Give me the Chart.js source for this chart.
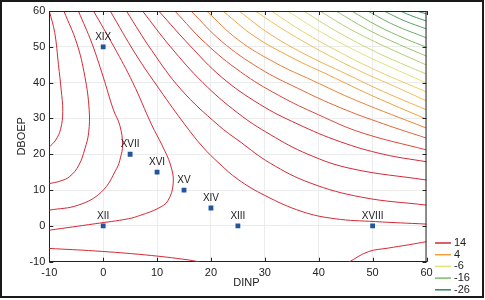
<!DOCTYPE html>
<html lang="en">
<head>
<meta charset="UTF-8">
<title>DINP / DBOEP contour plot</title>
<script src="https://cdn.jsdelivr.net/npm/chart.js"></script>
<style>
  body { margin: 0; background: #fff; }
  #wrap { position: relative; width: 485px; height: 300px; }
  #frame { position: absolute; left: 0; top: 0; width: 484px; height: 298px;
           border: 2px solid #1a1a1a; box-sizing: border-box; pointer-events: none; }
</style>
</head>
<body>
<div id="wrap">
  <canvas id="contourChart" width="485" height="300"></canvas>
  <div id="frame"></div>
</div>
<script>
// design points
const pointNames = ['XII', 'XIII', 'XIV', 'XV', 'XVI', 'XVII', 'XVIII', 'XIX'];
const dinp  = [0, 25, 20, 15, 10, 5, 50, 0];
const dboep = [0, 0, 5, 10, 15, 20, 0, 50];

// legend
const legendLevels = [14, 4, -6, -16, -26];
const legendColors = ['#d42a36', '#f3a03a', '#e2e27c', '#7dbb68', '#2f8a62'];

// contour lines, [DINP, DBOEP]
// left-hand family (open towards the left edge)
const l1 = [[-10,60],[-9,54],[-8.3,45],[-7.8,38],[-7.5,32],[-7.9,27],[-8.8,24],[-10,22]];
const l2 = [[-7.3,60],[-4.9,51],[-3.4,41.7],[-2.6,32.4],[-2.7,26],[-3.4,21.5],[-4.5,17],[-6.2,13.8],[-8,12.5],[-10,11.8]];
const l3 = [[-4.6,60],[-2.1,51],[0,41.6],[1.9,32.4],[3.1,28],[3.6,22.6],[3.2,19],[2.5,16],[-0.3,9.5],[-4.6,5.8],[-10,4.4]];
const l4 = [[-1.8,60],[2,50],[5.5,40],[9,28.2],[10.9,22.6],[12.5,17],[13,12],[12,7],[10.2,4.9],[7,3],[4.7,2],[-1.5,0.6],[-10,-1.2]];
const leftLevels = [31.5, 29, 26.5, 24];

// diagonal family (top edge to right edge)
const d1  = [[1.3,60],[6,48],[10.5,38],[15.2,28.2],[18.5,22],[21.5,17.5],[25,13],[30,8.5],[36.9,4],[43,2],[50.5,1.2],[60,0.5]];
const d2  = [[4.3,60],[9,49],[14.5,38],[21.3,28.2],[25.4,23.5],[31,17.5],[38.4,12],[48,8],[60,5.8]];
const d3  = [[7.3,60],[12.5,50],[18.5,40],[25,31.5],[31,25.5],[38,20],[46,16],[60,12.8]];
const d4  = [[10.3,60],[16,50.5],[22,41.5],[29,34],[36,28.5],[44,23.5],[52,20],[60,17.9]];
const d5  = [[13.3,60],[19,51],[25.5,43],[32.5,36.5],[40,31],[48,26],[60,21.2]];
const d6  = [[16.3,60],[22,51.5],[29,44],[36,38.5],[44,33],[52,28.5],[60,24.5]];
const d7  = [[19.2,60],[25,52],[32,45.5],[39,40.5],[47,35],[60,27.3]];
const d8  = [[22.2,60],[28,53],[35,47],[42,42],[50,36.3],[60,29.8]];
const d9  = [[25.2,60],[31,53.5],[38,47.5],[45,42.5],[52,37.5],[60,32.4]];
const d10 = [[28.2,60],[34,54.3],[41,48.3],[48,43],[54,39],[60,34.9]];
const d11 = [[31.2,60],[37,54.3],[44,48.4],[51,43.2],[60,37.4]];
const d12 = [[34.2,60],[40,54.5],[47,48.8],[54,43.9],[60,39.9]];
const d13 = [[37.2,60],[43,54.6],[50,49],[56,44.9],[60,42.4]];
const d14 = [[40.2,60],[46,54.8],[52,50.3],[60,44.9]];
const d15 = [[43.2,60],[49,54.9],[55,50.6],[60,47.4]];
const d16 = [[46.1,60],[51,55.8],[56,52.3],[60,49.9]];
const d17 = [[49.1,60],[54,56.1],[60,52.5]];
const d18 = [[52.1,60],[56,57.2],[60,55]];
const d19 = [[55.1,60],[57.5,58.5],[60,57.2]];
const d20 = [[58.1,60],[60,59.2]];
const diagLevels = [21.5, 19, 16.5, 14, 11.5, 9, 6.5, 4, 1.5, -1,
                    -3.5, -6, -8.5, -11, -13.5, -16, -18.5, -21, -23.5, -26];

// the two branches along the bottom edge
const lowLeft  = [[-10,-6.3],[-1.5,-7],[7.8,-8.1],[15.8,-9.5],[18.5,-10.3]];
const lowRight = [[45.5,-10.2],[49.2,-7.2],[52.9,-6.2],[56.6,-5.3],[60,-4.4]];
const lowLevel = 24;

const leftLines = [l1, l2, l3, l4];
const diagLines = [d1, d2, d3, d4, d5, d6, d7, d8, d9, d10, d11, d12, d13, d14, d15, d16, d17, d18, d19, d20];

const contours = []
    .concat(leftLines.map((pts, i) => ({level: leftLevels[i], pts: pts})))
    .concat(diagLines.map((pts, i) => ({level: diagLevels[i], pts: pts})))
    .concat([{level: lowLevel, pts: lowLeft}, {level: lowLevel, pts: lowRight}]);

function hexToRgb(h) {
    return [1, 3, 5].map(i => parseInt(h.substr(i, 2), 16));
}
// colour of a contour level, blended between the legend colours
function levelColor(v) {
    if (v >= legendLevels[0]) return legendColors[0];
    if (v <= legendLevels[legendLevels.length - 1]) return legendColors[legendColors.length - 1];
    for (let i = 0; i < legendLevels.length - 1; i++) {
        const a = legendLevels[i], b = legendLevels[i + 1];
        if (v <= a && v >= b) {
            const t = (a - v) / (a - b);
            const ca = hexToRgb(legendColors[i]), cb = hexToRgb(legendColors[i + 1]);
            const c = ca.map((k, j) => Math.round(k + (cb[j] - k) * t));
            return `rgb(${c[0]},${c[1]},${c[2]})`;
        }
    }
}

const FONT = '"Liberation Sans", Arial, sans-serif';

const datasets = contours.map(c => ({
    data: c.pts.map(p => ({x: p[0], y: p[1]})),
    showLine: true,
    pointRadius: 0,
    borderColor: levelColor(c.level),
    borderWidth: 1,
    tension: 0.4,
    fill: false
}));
datasets.push({
    data: dinp.map((x, i) => ({x: x, y: dboep[i]})),
    pointStyle: 'rect',
    pointRadius: 3.4,
    backgroundColor: '#24559c',
    borderColor: '#24559c',
    borderWidth: 0,
    showLine: false
});

// inner tick marks + top/right frame of the plot area, x axis title
const innerTicks = {
    id: 'innerTicks',
    afterDraw(chart) {
        const {ctx, chartArea: a, scales: {x, y}} = chart;
        ctx.save();
        ctx.strokeStyle = '#222';
        ctx.lineWidth = 1;
        ctx.beginPath();
        ctx.moveTo(a.left, a.top + 0.5); ctx.lineTo(a.right, a.top + 0.5);
        ctx.moveTo(a.right - 0.5, a.top); ctx.lineTo(a.right - 0.5, a.bottom);
        x.ticks.forEach(t => {
            const px = Math.round(x.getPixelForValue(t.value)) + 0.5;
            ctx.moveTo(px, a.bottom); ctx.lineTo(px, a.bottom - 4);
            ctx.moveTo(px, a.top); ctx.lineTo(px, a.top + 4);
        });
        y.ticks.forEach(t => {
            const py = Math.round(y.getPixelForValue(t.value)) + 0.5;
            ctx.moveTo(a.left, py); ctx.lineTo(a.left + 4, py);
            ctx.moveTo(a.right, py); ctx.lineTo(a.right - 4, py);
        });
        ctx.stroke();
        // x title sits a little right of centre in the original
        ctx.font = '11px ' + FONT;
        ctx.fillStyle = '#222';
        ctx.textAlign = 'center';
        ctx.textBaseline = 'middle';
        ctx.fillText('DINP', (a.left + a.right) / 2 + 8.5, 283);
        ctx.restore();
    }
};

// roman numeral names above the design points
const pointLabels = {
    id: 'pointLabels',
    afterDatasetsDraw(chart) {
        const ctx = chart.ctx;
        const meta = chart.getDatasetMeta(chart.data.datasets.length - 1);
        ctx.save();
        ctx.font = '10px ' + FONT;
        ctx.fillStyle = '#1a1a1a';
        ctx.textAlign = 'center';
        ctx.textBaseline = 'middle';
        meta.data.forEach((el, i) => ctx.fillText(pointNames[i], el.x, el.y - 10));
        ctx.restore();
    }
};

// level key in the lower right corner
const levelKey = {
    id: 'levelKey',
    afterDraw(chart) {
        const ctx = chart.ctx;
        ctx.save();
        ctx.font = '11px ' + FONT;
        ctx.textBaseline = 'middle';
        ctx.fillStyle = '#222';
        legendLevels.forEach((v, i) => {
            const yy = 243 + i * 11.7;
            ctx.strokeStyle = legendColors[i];
            ctx.lineWidth = 1.5;
            ctx.beginPath();
            ctx.moveTo(435, yy); ctx.lineTo(451, yy);
            ctx.stroke();
            ctx.fillText(String(v), 454, yy);
        });
        ctx.restore();
    }
};

new Chart(document.getElementById('contourChart'), {
    type: 'scatter',
    data: {datasets: datasets},
    options: {
        responsive: false,
        animation: false,
        devicePixelRatio: 1,
        layout: {padding: {left: 2, top: 11, right: 58.5, bottom: 0}},
        plugins: {legend: {display: false}, tooltip: {enabled: false}},
        scales: {
            x: {
                type: 'linear', min: -10, max: 60,
                ticks: {stepSize: 10, color: '#222', font: {family: FONT, size: 11}, padding: 5},
                grid: {color: '#ececec', drawTicks: false},
                border: {color: '#222', width: 1},
                title: {display: false, text: 'DINP'},
                afterFit: s => { s.height = 38.3; }
            },
            y: {
                type: 'linear', min: -10, max: 60,
                ticks: {stepSize: 10, color: '#222', font: {family: FONT, size: 11}, padding: 4},
                grid: {color: '#ececec', drawTicks: false},
                border: {color: '#222', width: 1},
                title: {display: true, text: 'DBOEP', color: '#222', font: {family: FONT, size: 11}, padding: {top: 13}},
                afterFit: s => { s.width = 47.3; }
            }
        }
    },
    plugins: [innerTicks, pointLabels, levelKey]
});
</script>
</body>
</html>
